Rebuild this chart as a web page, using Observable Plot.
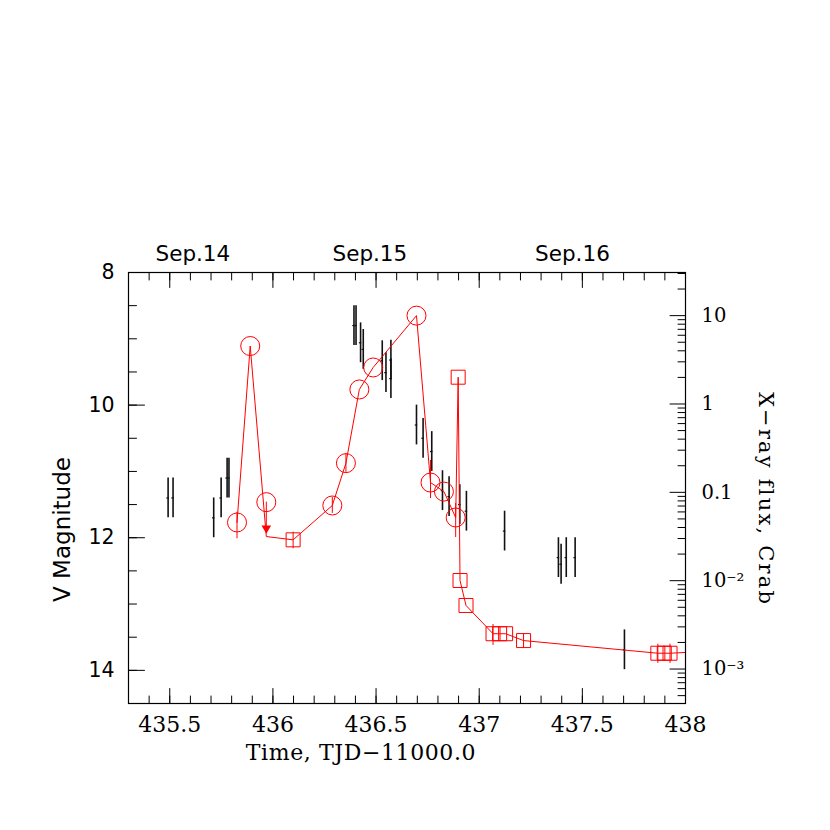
<!DOCTYPE html>
<html>
<head>
<meta charset="utf-8">
<script src="https://cdn.jsdelivr.net/npm/d3@7"></script>
<script src="https://cdn.jsdelivr.net/npm/@observablehq/plot@0.6"></script>
<style>
  html, body { margin: 0; padding: 0; background: #fff; }
</style>
</head>
<body>
<div id="chart"></div>
<script>
// ---- Optical V-band points (black) ----
const vT   = [435.492, 435.516, 435.713, 435.749, 435.778, 435.787,
              436.393, 436.403, 436.425, 436.438, 436.530, 436.548, 436.572, 436.572,
              436.696, 436.728, 436.770, 436.822, 436.854, 436.906, 436.938,
              437.123, 437.384, 437.397, 437.422, 437.465, 437.704];
const vMag = [11.40, 11.40, 11.70, 11.40, 11.10, 11.10,
              8.80, 8.80, 9.06, 9.16, 9.33, 9.51, 9.32, 9.60,
              10.30, 10.50, 10.70, 11.29, 11.38, 11.50, 11.60,
              11.90, 12.30, 12.40, 12.30, 12.30, 13.69];
const vErr = 0.3;     // mag
const tErr = 0.006;   // day

// ---- X-ray flux (red), Crab units ----
const circT = [435.826, 435.890, 435.968, 436.288, 436.354, 436.419, 436.486, 436.696, 436.764, 436.829, 436.886];
const circF = [0.0456, 4.53, 0.0774, 0.071, 0.214, 1.46, 2.59, 10.0, 0.129, 0.102, 0.0519];
// upper limit (circle at index 2)
const ulT = 435.968, ulF = 0.0774, ulTip = 0.0354, ulLineF = 0.0316;

const sqT = [436.098, 436.898, 436.907, 436.936, 437.067, 437.099, 437.128, 437.215, 437.866, 437.897, 437.925];
const sqF = [0.0290, 2.01, 0.01005, 0.00524, 0.00251, 0.00251, 0.00251, 0.00210, 0.00151, 0.00151, 0.00151];
const tailT = 438.0, tailF = 0.00154;

// red error bars
const ebT  = [435.826, 436.288, 436.354, 436.764, 436.886, 436.098, 437.067, 437.215, 437.866, 437.925];
const ebLo = [0.0298, 0.0577, 0.168, 0.0851, 0.0308, 0.0230, 0.00185, 0.00171, 0.00116, 0.00116];
const ebHi = [0.0596, 0.0881, 0.275, 0.2296, 0.0748, 0.0354, 0.00319, 0.00252, 0.00191, 0.00191];

// ---- axes ----
const xMajor = [435.5, 436, 436.5, 437, 437.5, 438];
const yMajor = [8, 10, 12, 14];
const fluxMajor = [10, 1, 0.1, 0.01, 0.001];
const fluxLabels = ["10", "1", "0.1", "10\u207B\u00B2", "10\u207B\u00B3"];
const dateLabels = ["Sep.14", "Sep.15", "Sep.16"];
const dateX = [435.612, 436.470, 437.452];
const xTitle = "Time, TJD\u221211000.0";
const yTitle = "V Magnitude";
const y2Title = "X\u2212ray flux, Crab";

// mapping of the right (log flux) axis onto the left magnitude axis
const V1 = 9.983, decMag = 1.3324;
const fluxToV = f => V1 - decMag * Math.log10(f);

const xMinor = d3.range(4353, 4381).map(d => d / 10);
const yMinor = d3.range(16, 30).map(d => d / 2);
const fluxMinor = [];
for (let n = -4; n <= 1; n++) for (let k = 2; k <= 9; k++) {
  const v = fluxToV(k * Math.pow(10, n));
  if (v >= 8 && v <= 14.5) fluxMinor.push(v);
}
const fluxMajorV = fluxMajor.map(fluxToV);
const fluxLabelMap = new Map(fluxMajorV.map((v, i) => [v, fluxLabels[i]]));

const red = "#ff0000";
const serif = "DejaVu Serif";
const sans = "DejaVu Sans";

const opt = d3.range(vT.length);
const circles = circT.map((t, i) => ({t, f: circF[i]}));
const squares = sqT.map((t, i) => ({t, f: sqF[i]}));
const lineData = [
  ...circles.map(d => ({t: d.t, f: d.t === ulT ? ulLineF : d.f})),
  ...squares,
  {t: tailT, f: tailF}
].sort((a, b) => a.t - b.t);
const ebs = ebT.map((t, i) => ({t, lo: ebLo[i], hi: ebHi[i]}));

// inward tick shape
const tickShape = {draw(context, l) { context.moveTo(0, 0); context.lineTo(0, -l); }};
const tk = (data, ch, anchor, len, rot) => Plot.vector(data, {
  [ch]: d => d, frameAnchor: anchor, length: len, rotate: rot, anchor: "start",
  shape: tickShape, stroke: "#000", strokeWidth: 1, fill: "none"
});

const chart = Plot.plot({
  width: 830,
  height: 830,
  marginLeft: 128,
  marginRight: 145,
  marginTop: 272,
  marginBottom: 127,
  style: {background: "#fff", fontFamily: sans, overflow: "visible"},
  x: {domain: [435.3, 438.0], axis: null},
  y: {domain: [14.5, 8], axis: null},
  marks: [
    // ticks (inward)
    tk(xMinor, "x", "bottom", 7.5, 0),
    tk(xMajor, "x", "bottom", 15, 0),
    tk(xMinor, "x", "top", 7.5, 180),
    tk(xMajor, "x", "top", 15, 180),
    tk(yMinor, "y", "left", 8, 90),
    tk(yMajor, "y", "left", 16, 90),
    tk(fluxMinor, "y", "right", 7.5, -90),
    tk(fluxMajorV, "y", "right", 15.5, -90),
    // tick labels
    Plot.axisX(xMajor, {anchor: "bottom", tickSize: 0, tickPadding: 13, tickFormat: d => String(d),
      fontFamily: serif, fontSize: 22, fill: "#000", label: null}),
    Plot.axisY(yMajor, {anchor: "left", tickSize: 0, tickPadding: 14, tickFormat: d => String(d),
      fontFamily: sans, fontSize: 20.5, fill: "#000", label: null}),
    Plot.axisY(fluxMajorV, {anchor: "right", tickSize: 0, tickPadding: 16, tickFormat: d => fluxLabelMap.get(d),
      fontFamily: serif, fontSize: 19.5, fill: "#000", label: null}),
    Plot.text(dateLabels, {x: (d, i) => dateX[i], frameAnchor: "top", dy: -18, text: d => d,
      lineAnchor: "middle", textAnchor: "middle", fontFamily: sans, fontSize: 21.5, fill: "#000"}),
    // axis titles
    Plot.text([xTitle], {frameAnchor: "bottom", dx: -46, dy: 49, text: d => d,
      lineAnchor: "middle", textAnchor: "middle", fontFamily: serif, fontSize: 22, fill: "#000"}),
    Plot.text([yTitle], {frameAnchor: "left", dx: -66, dy: 41.5, rotate: -90, text: d => d,
      lineAnchor: "middle", textAnchor: "middle", fontFamily: sans, fontSize: 23, fill: "#000"}),
    Plot.text([y2Title], {frameAnchor: "right", dx: 80.5, dy: 11, rotate: 90, text: d => d,
      lineAnchor: "middle", textAnchor: "middle", fontFamily: serif, fontSize: 21, fill: "#000"}),

    // optical error bars
    Plot.ruleX(opt, {x: i => vT[i], y1: i => vMag[i] - vErr, y2: i => vMag[i] + vErr, stroke: "#111", strokeWidth: 1.6}),
    Plot.ruleY(opt, {y: i => vMag[i], x1: i => vT[i] - tErr, x2: i => vT[i] + tErr, stroke: "#111", strokeWidth: 1.2}),

    // X-ray
    Plot.ruleX(ebs, {x: "t", y1: d => fluxToV(d.lo), y2: d => fluxToV(d.hi), stroke: red, strokeWidth: 1}),
    Plot.line(lineData, {x: "t", y: d => fluxToV(d.f), stroke: red, strokeWidth: 1, clip: true}),
    Plot.dot(circles, {x: "t", y: d => fluxToV(d.f), r: 9.5, stroke: red, strokeWidth: 1, fill: "none"}),
    Plot.dot(squares, {x: "t", y: d => fluxToV(d.f), r: 7.9, symbol: "square", stroke: red, strokeWidth: 1, fill: "none"}),
    Plot.ruleX([ulT], {x: d => d, y1: fluxToV(ulF), y2: fluxToV(ulTip), stroke: red, strokeWidth: 1}),
    Plot.dot([ulT], {x: d => d, y: fluxToV(ulTip), r: 2.6, symbol: "triangle", fill: red, stroke: red, rotate: 180, dy: -4}),

    Plot.frame({stroke: "#000", strokeWidth: 1.2})
  ]
});
// widen letter spacing of the axis titles (PGPLOT-like wide lettering)
d3.select(chart).selectAll("text")
  .filter(function() { return this.textContent === y2Title; })
  .attr("letter-spacing", "2.2px");
d3.select(chart).selectAll("text")
  .filter(function() { return this.textContent === xTitle; })
  .attr("letter-spacing", "0.6px");
document.getElementById("chart").appendChild(chart);
</script>
</body>
</html>
